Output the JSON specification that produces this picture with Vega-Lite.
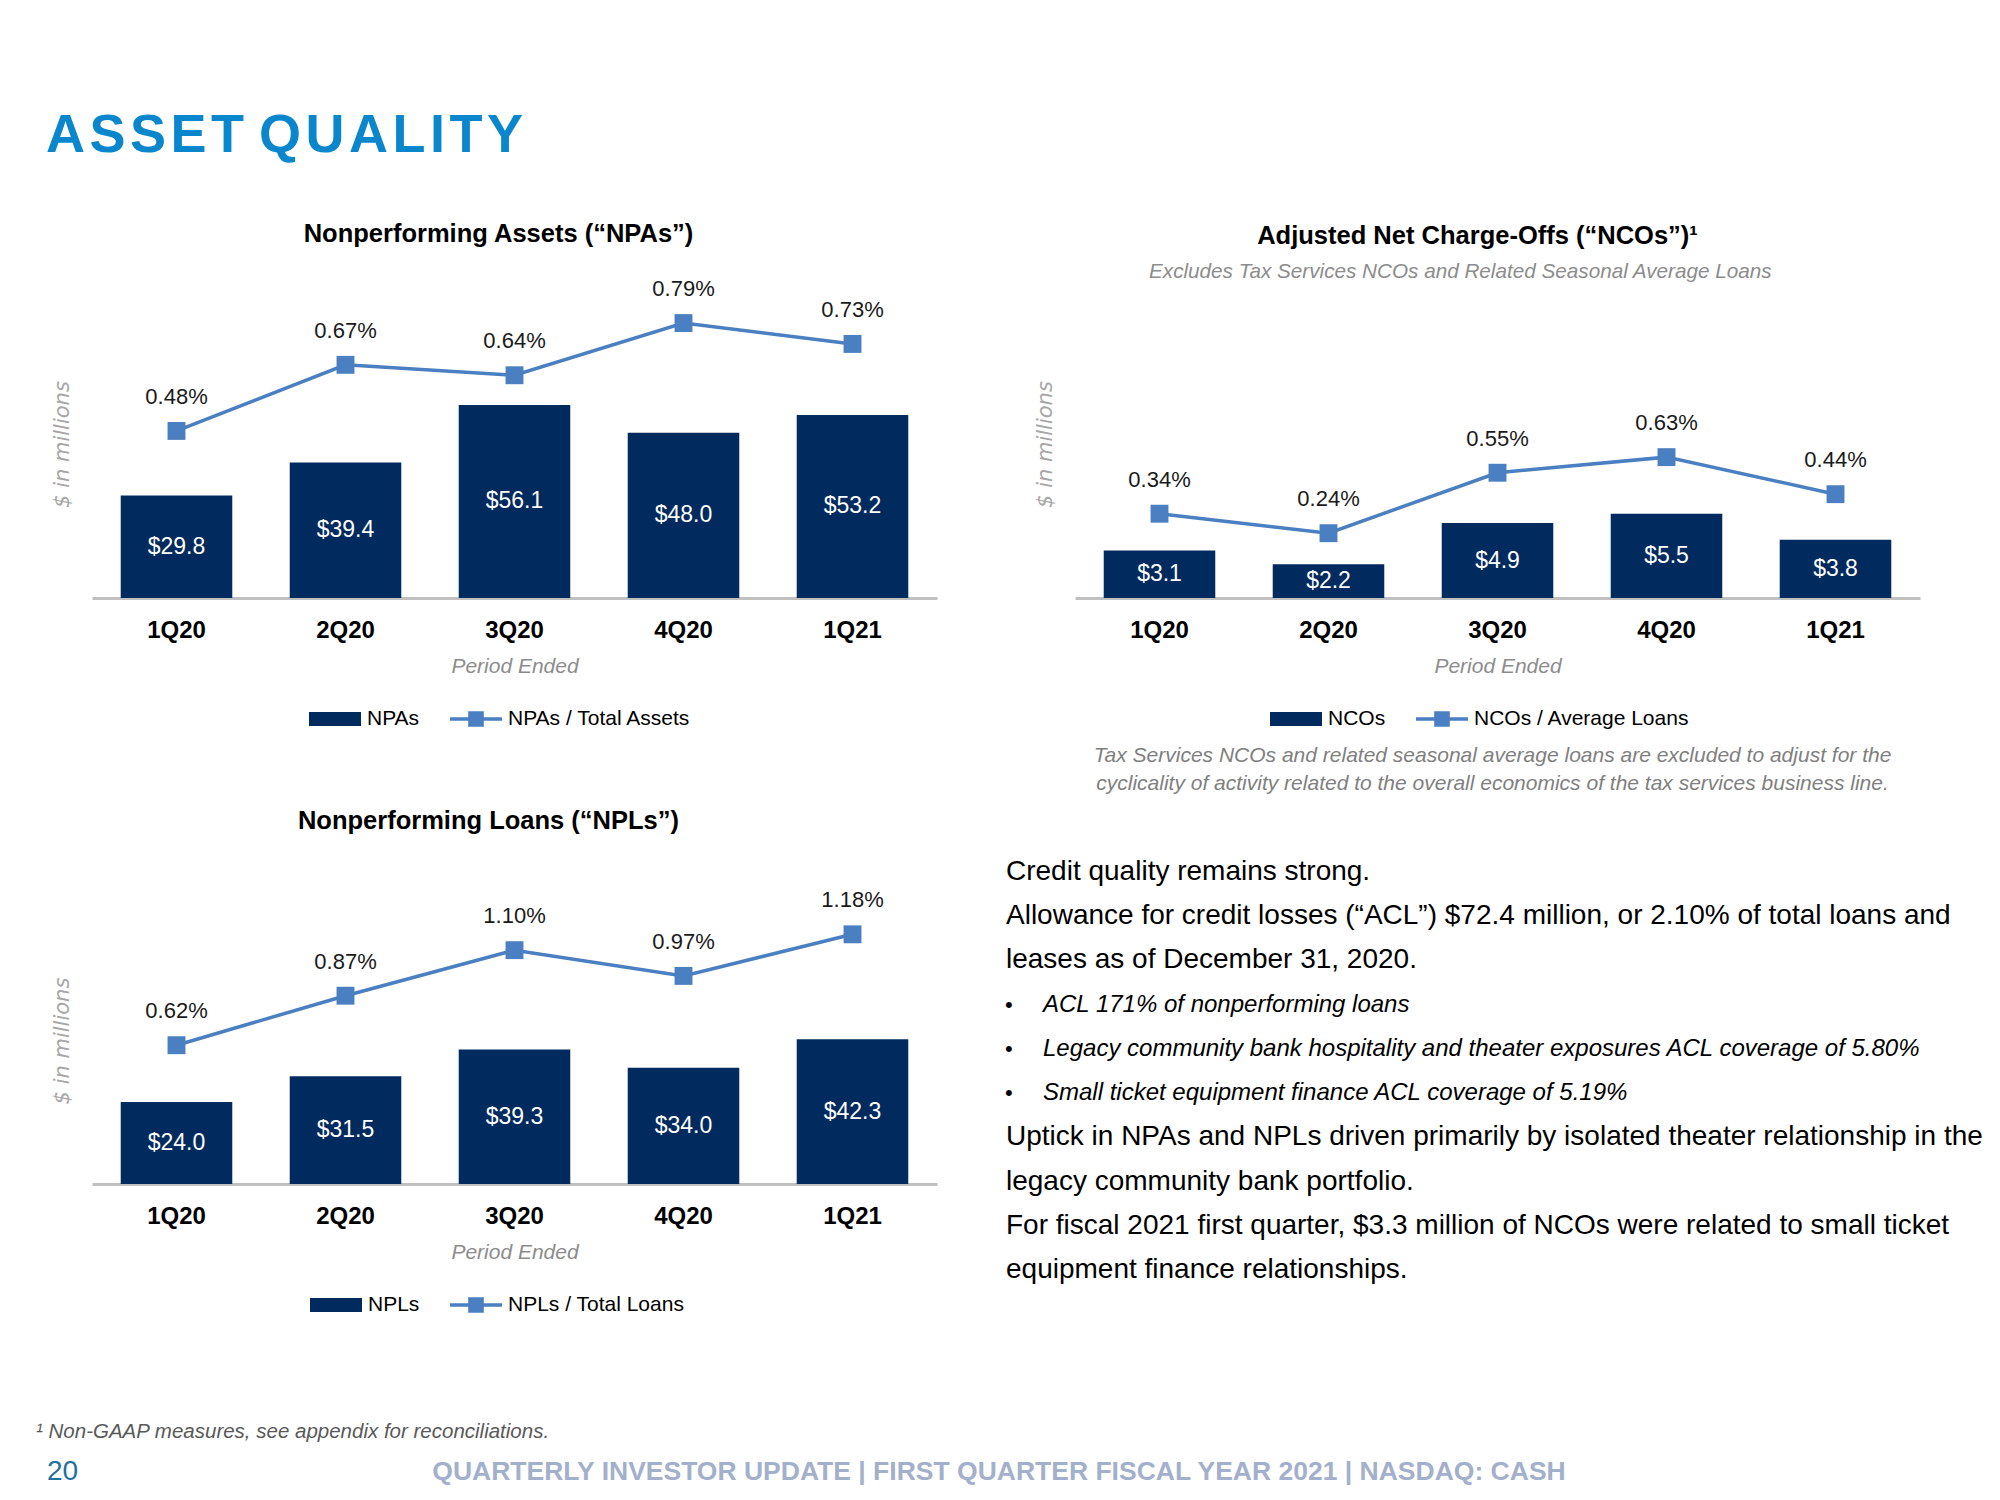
{
  "$schema": "https://vega.github.io/schema/vega-lite/v6.json",
  "background": "white",
  "padding": {"left": 36, "top": 108, "right": 10, "bottom": 10},
  "config": {
    "font": "Liberation Sans",
    "view": {"stroke": null},
    "axis": {"grid": false},
    "legend": {
      "orient": "bottom", "direction": "horizontal", "title": null, "offset": 17,
      "labelFontSize": 21, "labelColor": "#000000", "labelFont": "Liberation Sans", "labelLimit": 600,
      "symbolSize": 2704, "columnPadding": 30, "labelOffset": 6, "symbolStrokeWidth": 0,
      "symbolOpacity": 1,
      "layout": {"bottom": {"anchor": "middle"}}
    }
  },
  "title": {"text": "A\u200aS\u200aS\u200aE\u200aT Q\u200aU\u200aA\u200aL\u200aI\u200aT\u200aY", "anchor": "start", "fontSize": 54, "fontWeight": "bold", "color": "#0a86cc", "offset": 59, "dx": 10},
  "resolve": {"scale": {"color": "independent"}, "legend": {"color": "independent"}},
  "spacing": 106,
  "vconcat": [
    {
      "hconcat": [
        {
          "spacing": 79,
          "resolve": {"scale": {"color": "independent"}, "legend": {"color": "independent"}},
          "vconcat": [
            {
              "width": 845, "height": 308,
              "title": {"text": "Nonperforming Assets (“NPAs”)", "fontSize": 25.5, "fontWeight": "bold", "color": "#000000", "anchor": "middle", "offset": 31, "dx": -16},
              "data": {"values": [
                {"q": "1Q20", "amt": 29.8, "ratio": 0.0048},
                {"q": "2Q20", "amt": 39.4, "ratio": 0.0067},
                {"q": "3Q20", "amt": 56.1, "ratio": 0.0064},
                {"q": "4Q20", "amt": 48.0, "ratio": 0.0079},
                {"q": "1Q21", "amt": 53.2, "ratio": 0.0073}
              ]},
              "encoding": {
                "x": {"field": "q", "type": "nominal", "sort": null,
                  "scale": {"paddingInner": 0.34, "paddingOuter": 0.17},
                  "axis": {"title": "Period Ended", "titleFontStyle": "italic", "titleFontWeight": "normal", "titleColor": "#8c8c8c", "titleFontSize": 21, "titlePadding": 13,
                    "labelFontSize": 24, "labelFontWeight": "bold", "labelColor": "#000000", "labelAngle": 0, "ticks": false, "labelPadding": 20,
                    "domainColor": "#c0c0c0", "domainWidth": 3}}
              },
              "layer": [
                {"mark": {"type": "bar"},
                 "encoding": {
                   "y": {"field": "amt", "type": "quantitative", "scale": {"domain": [0, 89.5], "nice": false},
                     "axis": {"title": "$ in millions", "labels": false, "ticks": false, "domain": false, "titleFont": "DejaVu Sans", "titleFontStyle": "italic", "titleFontWeight": "normal", "titleColor": "#a6a6a6", "titleFontSize": 21, "titlePadding": 20}},
                   "color": {"datum": "NPAs", "type": "nominal", "scale": {"domain": ["NPAs", "NPAs / Total Assets"], "range": ["#012a5e", "#4a7fc1"]},
                     "legend": {
                       "labelExpr": "datum.index === 1 ? datum.label + '\u00a0\u00a0\u00a0\u00a0\u00a0\u200b' : datum.label",
                       "encode": {"symbols": {"update": {
                       "shape": {"signal": "datum.index === 0 ? 'M-1,-0.27H1V0.27H-1Z' : 'M-1,-0.07H1V0.07H-1ZM-0.3,-0.3H0.3V0.3H-0.3Z'"},
                       "fill": {"signal": "datum.index === 0 ? '#012a5e' : '#4a7fc1'"},
                       "stroke": {"value": "transparent"}, "opacity": {"value": 1}}}}}}
                 }},
                {"mark": {"type": "text", "color": "#ffffff", "fontSize": 23, "baseline": "middle"},
                 "encoding": {
                   "y": {"field": "amt", "type": "quantitative", "scale": {"domain": [0, 179], "nice": false}, "axis": null},
                   "text": {"field": "amt", "type": "quantitative", "format": "$.1f"}
                 }},
                {"mark": {"type": "line", "strokeWidth": 3.5, "point": {"shape": "square", "size": 320, "filled": true, "opacity": 1}},
                 "encoding": {
                   "y": {"field": "ratio", "type": "quantitative", "scale": {"domain": [0, 0.00885], "nice": false}, "axis": null},
                   "color": {"datum": "NPAs / Total Assets", "type": "nominal"}
                 }},
                {"mark": {"type": "text", "fontSize": 22, "dy": -34, "baseline": "middle", "color": "#1a1a1a"},
                 "encoding": {
                   "y": {"field": "ratio", "type": "quantitative", "scale": {"domain": [0, 0.00885], "nice": false}, "axis": null},
                   "text": {"field": "ratio", "type": "quantitative", "format": ".2%"}
                 }}
              ],
              "resolve": {"scale": {"y": "independent"}}
            },
            {
              "width": 845, "height": 287,
              "title": {"text": "Nonperforming Loans (“NPLs”)", "fontSize": 25.5, "fontWeight": "bold", "color": "#000000", "anchor": "middle", "offset": 55, "dx": -26},
              "data": {"values": [
                {"q": "1Q20", "amt": 24.0, "ratio": 0.0062},
                {"q": "2Q20", "amt": 31.5, "ratio": 0.0087},
                {"q": "3Q20", "amt": 39.3, "ratio": 0.0110},
                {"q": "4Q20", "amt": 34.0, "ratio": 0.0097},
                {"q": "1Q21", "amt": 42.3, "ratio": 0.0118}
              ]},
              "encoding": {
                "x": {"field": "q", "type": "nominal", "sort": null,
                  "scale": {"paddingInner": 0.34, "paddingOuter": 0.17},
                  "axis": {"title": "Period Ended", "titleFontStyle": "italic", "titleFontWeight": "normal", "titleColor": "#8c8c8c", "titleFontSize": 21, "titlePadding": 13,
                    "labelFontSize": 24, "labelFontWeight": "bold", "labelColor": "#000000", "labelAngle": 0, "ticks": false, "labelPadding": 20,
                    "domainColor": "#c0c0c0", "domainWidth": 3}}
              },
              "layer": [
                {"mark": {"type": "bar"},
                 "encoding": {
                   "y": {"field": "amt", "type": "quantitative", "scale": {"domain": [0, 83.9], "nice": false},
                     "axis": {"title": "$ in millions", "labels": false, "ticks": false, "domain": false, "titleFont": "DejaVu Sans", "titleFontStyle": "italic", "titleFontWeight": "normal", "titleColor": "#a6a6a6", "titleFontSize": 21, "titlePadding": 20}},
                   "color": {"datum": "NPLs", "type": "nominal", "scale": {"domain": ["NPLs", "NPLs / Total Loans"], "range": ["#012a5e", "#4a7fc1"]},
                     "legend": {
                       "labelExpr": "datum.index === 1 ? datum.label + '\u00a0\u00a0\u00a0\u00a0\u00a0\u00a0\u200b' : datum.label",
                       "encode": {"symbols": {"update": {
                       "shape": {"signal": "datum.index === 0 ? 'M-1,-0.27H1V0.27H-1Z' : 'M-1,-0.07H1V0.07H-1ZM-0.3,-0.3H0.3V0.3H-0.3Z'"},
                       "fill": {"signal": "datum.index === 0 ? '#012a5e' : '#4a7fc1'"},
                       "stroke": {"value": "transparent"}, "opacity": {"value": 1}}}}}}
                 }},
                {"mark": {"type": "text", "color": "#ffffff", "fontSize": 23, "baseline": "middle"},
                 "encoding": {
                   "y": {"field": "amt", "type": "quantitative", "scale": {"domain": [0, 167.8], "nice": false}, "axis": null},
                   "text": {"field": "amt", "type": "quantitative", "format": "$.1f"}
                 }},
                {"mark": {"type": "line", "strokeWidth": 3.5, "point": {"shape": "square", "size": 320, "filled": true, "opacity": 1}},
                 "encoding": {
                   "y": {"field": "ratio", "type": "quantitative", "scale": {"domain": [-0.00081, 0.013685], "nice": false, "zero": false}, "axis": null},
                   "color": {"datum": "NPLs / Total Loans", "type": "nominal"}
                 }},
                {"mark": {"type": "text", "fontSize": 22, "dy": -34, "baseline": "middle", "color": "#1a1a1a"},
                 "encoding": {
                   "y": {"field": "ratio", "type": "quantitative", "scale": {"domain": [-0.00081, 0.013685], "nice": false, "zero": false}, "axis": null},
                   "text": {"field": "ratio", "type": "quantitative", "format": ".2%"}
                 }}
              ],
              "resolve": {"scale": {"y": "independent"}}
            }
          ]
        },
        {
          "spacing": 16,
          "resolve": {"scale": {"color": "independent"}, "legend": {"color": "independent"}},
          "vconcat": [
            {
              "width": 845, "height": 308,
              "title": {"text": "Adjusted Net Charge-Offs (“NCOs”)¹", "subtitle": "Excludes Tax Services NCOs and Related Seasonal Average Loans\u00a0\u00a0\u00a0\u00a0\u00a0\u00a0\u200b",
                "fontSize": 25.5, "fontWeight": "bold", "color": "#000000", "anchor": "middle", "offset": 8, "dx": -20,
                "subtitleFontSize": 20.7, "subtitleFontStyle": "italic", "subtitleColor": "#8c8c8c", "subtitlePadding": 13},
              "data": {"values": [
                {"q": "1Q20", "amt": 3.1, "ratio": 0.0034},
                {"q": "2Q20", "amt": 2.2, "ratio": 0.0024},
                {"q": "3Q20", "amt": 4.9, "ratio": 0.0055},
                {"q": "4Q20", "amt": 5.5, "ratio": 0.0063},
                {"q": "1Q21", "amt": 3.8, "ratio": 0.0044}
              ]},
              "encoding": {
                "x": {"field": "q", "type": "nominal", "sort": null,
                  "scale": {"paddingInner": 0.34, "paddingOuter": 0.17},
                  "axis": {"title": "Period Ended", "titleFontStyle": "italic", "titleFontWeight": "normal", "titleColor": "#8c8c8c", "titleFontSize": 21, "titlePadding": 13,
                    "labelFontSize": 24, "labelFontWeight": "bold", "labelColor": "#000000", "labelAngle": 0, "ticks": false, "labelPadding": 20,
                    "domainColor": "#c0c0c0", "domainWidth": 3}}
              },
              "layer": [
                {"mark": {"type": "bar"},
                 "encoding": {
                   "y": {"field": "amt", "type": "quantitative", "scale": {"domain": [0, 20.13], "nice": false},
                     "axis": {"title": "$ in millions", "labels": false, "ticks": false, "domain": false, "titleFont": "DejaVu Sans", "titleFontStyle": "italic", "titleFontWeight": "normal", "titleColor": "#a6a6a6", "titleFontSize": 21, "titlePadding": 20}},
                   "color": {"datum": "NCOs", "type": "nominal", "scale": {"domain": ["NCOs", "NCOs / Average Loans"], "range": ["#012a5e", "#4a7fc1"]},
                     "legend": {
                       "labelExpr": "datum.index === 1 ? datum.label + '\u00a0\u00a0\u00a0\u00a0\u00a0\u00a0\u200b' : datum.label",
                       "encode": {"symbols": {"update": {
                       "shape": {"signal": "datum.index === 0 ? 'M-1,-0.27H1V0.27H-1Z' : 'M-1,-0.07H1V0.07H-1ZM-0.3,-0.3H0.3V0.3H-0.3Z'"},
                       "fill": {"signal": "datum.index === 0 ? '#012a5e' : '#4a7fc1'"},
                       "stroke": {"value": "transparent"}, "opacity": {"value": 1}}}}}}
                 }},
                {"mark": {"type": "text", "color": "#ffffff", "fontSize": 23, "baseline": "middle"},
                 "encoding": {
                   "y": {"field": "amt", "type": "quantitative", "scale": {"domain": [0, 40.26], "nice": false}, "axis": null},
                   "text": {"field": "amt", "type": "quantitative", "format": "$.1f"}
                 }},
                {"mark": {"type": "line", "strokeWidth": 3.5, "point": {"shape": "square", "size": 320, "filled": true, "opacity": 1}},
                 "encoding": {
                   "y": {"field": "ratio", "type": "quantitative", "scale": {"domain": [-0.000923, 0.01487], "nice": false, "zero": false}, "axis": null},
                   "color": {"datum": "NCOs / Average Loans", "type": "nominal"}
                 }},
                {"mark": {"type": "text", "fontSize": 22, "dy": -34, "baseline": "middle", "color": "#1a1a1a"},
                 "encoding": {
                   "y": {"field": "ratio", "type": "quantitative", "scale": {"domain": [-0.000923, 0.01487], "nice": false, "zero": false}, "axis": null},
                   "text": {"field": "ratio", "type": "quantitative", "format": ".2%"}
                 }}
              ],
              "resolve": {"scale": {"y": "independent"}}
            },
            {
              "width": 845, "height": 398,
              "title": {"text": ["Tax Services NCOs and related seasonal average loans are excluded to adjust for the", "cyclicality of activity related to the overall economics of the tax services business line."],
                "fontSize": 21, "fontStyle": "italic", "fontWeight": "normal", "color": "#7f7f7f", "lineHeight": 28, "anchor": "middle", "offset": 64, "dx": -5},
              "data": {"values": [
                {"line": 1, "kind": "body", "text": "Credit quality remains strong."},
                {"line": 2, "kind": "body", "text": "Allowance for credit losses (“ACL”) $72.4 million, or 2.10% of total loans and"},
                {"line": 3, "kind": "body", "text": "leases as of December 31, 2020."},
                {"line": 4, "kind": "bullet", "text": "ACL 171% of nonperforming loans"},
                {"line": 5, "kind": "bullet", "text": "Legacy community bank hospitality and theater exposures ACL coverage of 5.80%"},
                {"line": 6, "kind": "bullet", "text": "Small ticket equipment finance ACL coverage of 5.19%"},
                {"line": 7, "kind": "body", "text": "Uptick in NPAs and NPLs driven primarily by isolated theater relationship in the"},
                {"line": 8, "kind": "body", "text": "legacy community bank portfolio."},
                {"line": 9, "kind": "body", "text": "For fiscal 2021 first quarter, $3.3 million of NCOs were related to small ticket"},
                {"line": 10, "kind": "body", "text": "equipment finance relationships."}
              ]},
              "encoding": {
                "y": {"field": "line", "type": "ordinal", "scale": {"type": "point", "padding": 0}, "axis": null},
                "x": {"datum": 0, "type": "quantitative", "scale": {"domain": [0, 1]}, "axis": null}
              },
              "layer": [
                {"transform": [{"filter": "datum.kind === 'body'"}],
                 "mark": {"type": "text", "align": "left", "baseline": "middle", "fontSize": 28, "dx": -69, "color": "#000000"},
                 "encoding": {"text": {"field": "text"}}},
                {"transform": [{"filter": "datum.kind === 'bullet'"}],
                 "mark": {"type": "text", "align": "left", "baseline": "middle", "fontSize": 24, "fontStyle": "italic", "dx": -32, "color": "#000000"},
                 "encoding": {"text": {"field": "text"}}},
                {"transform": [{"filter": "datum.kind === 'bullet'"}],
                 "mark": {"type": "text", "align": "left", "baseline": "middle", "fontSize": 22, "dx": -70, "text": "•", "color": "#000000"}}
              ]
            }
          ]
        }
      ],
      "spacing": 68,
      "resolve": {"scale": {"color": "independent"}, "legend": {"color": "independent"}}
    },
    {
      "width": 1814, "height": 30,
      "title": {"text": "¹ Non-GAAP measures, see appendix for reconciliations.", "anchor": "start", "frame": "group", "fontSize": 20.5, "fontStyle": "italic", "fontWeight": "normal", "color": "#595959", "offset": 15, "dx": -56},
      "data": {"values": [
        {"slot": "page", "text": "20"},
        {"slot": "footer", "text": "QUARTERLY INVESTOR UPDATE | FIRST QUARTER FISCAL YEAR 2021 | NASDAQ: CASH"}
      ]},
      "layer": [
        {"transform": [{"filter": "datum.slot === 'page'"}],
         "mark": {"type": "text", "align": "left", "baseline": "middle", "fontSize": 28, "color": "#1f6f9f", "dx": -45},
         "encoding": {"text": {"field": "text"}, "x": {"datum": 0, "type": "quantitative", "scale": {"domain": [0, 1]}, "axis": null}}},
        {"transform": [{"filter": "datum.slot === 'footer'"}],
         "mark": {"type": "text", "align": "center", "baseline": "middle", "fontSize": 26.5, "fontWeight": "bold", "color": "#a3b0cb"},
         "encoding": {"text": {"field": "text"}, "x": {"datum": 0.5, "type": "quantitative", "scale": {"domain": [0, 1]}, "axis": null}}}
      ]
    }
  ]
}
